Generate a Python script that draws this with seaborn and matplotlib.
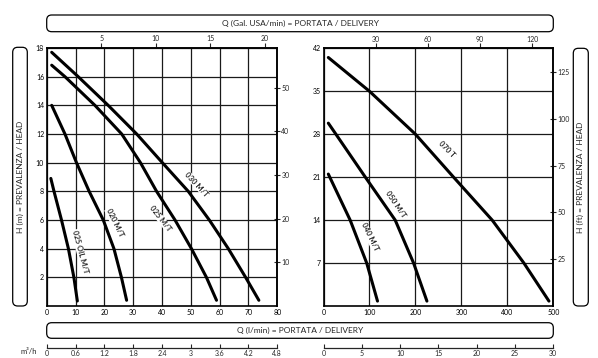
import numpy as np
import matplotlib
matplotlib.use("Agg")
import matplotlib.pyplot as plt
import seaborn as sns
from matplotlib.patches import FancyBboxPatch

# left panel: Q (l/min) vs H (m)
q_030 = [1.7, 10.9, 21.3, 31.2, 40.1, 49.1, 56.4, 63.0, 69.0, 73.6]
h_030 = [17.7, 16, 14, 12, 10, 8, 6, 4, 2, 0.4]
q_025 = [1.7, 6.3, 16.7, 26.0, 32.5, 38.1, 44.5, 50.2, 55.4, 58.9]
h_025 = [16.8, 16, 14, 12, 10, 8, 6, 4, 2, 0.4]
q_020 = [1.7, 6.3, 10.3, 14.7, 19.6, 23.3, 25.9, 27.7]
h_020 = [14, 12, 10, 8, 6, 4, 2, 0.4]
q_025oil = [1.4, 2.5, 5.1, 7.5, 9.4, 10.6]
h_025oil = [8.9, 8, 6, 4, 2, 0.35]

# right panel
q_070 = [10.5, 100, 200, 283, 367, 436, 490.5]
h_070 = [40.5, 35, 28, 21, 14, 7, 0.8]
q_050 = [10.5, 27, 91, 156, 196, 225]
h_050 = [29.8, 28, 21, 14, 7, 0.8]
q_040 = [10.5, 58, 94, 117.5]
h_040 = [21.5, 14, 7, 0.8]

left_labels = [("025 OIL M/T", 11.6, 3.8, -75), ("020 M/T", 23.5, 5.8, -64),
               ("025 M/T", 39.4, 6.1, -52), ("030 M/T", 52.0, 8.5, -47)]
right_labels = [("070 T", 268, 25.5, -45), ("050 M/T", 157, 16.6, -56),
                ("040 M/T", 100, 11.3, -64)]

GAL = 3.785   # l per US gallon
FT = 3.2808   # ft per m

sns.set_theme(style="white")
plt.rcParams['font.family'] = ['Lato', 'DejaVu Sans']

W, H = 598, 358
fig = plt.figure(figsize=(W / 100, H / 100), dpi=100)


def px_axes(x0, x1, y0, y1, **kw):
    return fig.add_axes([x0 / W, 1 - y1 / H, (x1 - x0) / W, (y1 - y0) / H], **kw)


def style_panel(ax, xmax, xstep, ymax, ystep, gal_ticks, ft_ticks, m3_ticks):
    ax.set_xlim(0, xmax)
    ax.set_ylim(0, ymax)
    ax.set_xticks(np.arange(0, xmax + 1, xstep))
    ax.set_yticks(np.arange(ystep, ymax + 0.1, ystep))
    ax.grid(True, color='#1a1a1a', lw=0.9)
    ax.set_axisbelow(True)
    ax.set_xlabel('')
    ax.set_ylabel('')
    for sp in ax.spines.values():
        sp.set_color('black')
        sp.set_linewidth(1.2)
    ax.tick_params(length=0, labelsize=5, pad=2, colors='black')

    top = ax.secondary_xaxis('top', functions=(lambda q: q / GAL, lambda g: g * GAL))
    top.set_xticks(gal_ticks)
    top.tick_params(direction='out', length=3.5, width=0.8, labelsize=5, pad=0.5)

    right = ax.secondary_yaxis('right', functions=(lambda m: m * FT, lambda f: f / FT))
    right.set_yticks(ft_ticks)
    right.tick_params(direction='inout', length=4, width=0.8, labelsize=5, pad=1)

    # m3/h scale below the caption box
    bot = ax.secondary_xaxis(-0.1616, functions=(lambda q: q * 0.06, lambda m: m / 0.06))
    bot.set_xticks(m3_ticks)
    bot.set_xticklabels([f"{v:g}" for v in m3_ticks])
    bot.tick_params(direction='in', length=3, width=0.8, labelsize=5, pad=1.5)
    bot.spines['bottom'].set_linewidth(0.9)


def curve(ax, q, h):
    sns.lineplot(x=q, y=h, ax=ax, color='black', lw=2.2, sort=False,
                 estimator=None, zorder=4)


def labels(ax, items):
    for s, x, y, r in items:
        ax.text(x, y, s, rotation=r, rotation_mode='anchor', ha='center', va='center',
                fontsize=5.5, fontweight='bold', zorder=5,
                bbox=dict(fc='white', ec='none', pad=0.3))


ax_l = px_axes(46.8, 277.3, 48, 306)
for q, h in [(q_030, h_030), (q_025, h_025), (q_020, h_020), (q_025oil, h_025oil)]:
    curve(ax_l, q, h)
style_panel(ax_l, 80, 10, 18, 2, [5, 10, 15, 20], [10, 20, 30, 40, 50],
            [0, 0.6, 1.2, 1.8, 2.4, 3, 3.6, 4.2, 4.8])
labels(ax_l, left_labels)

ax_r = px_axes(323.5, 553.3, 48.3, 306)
for q, h in [(q_070, h_070), (q_050, h_050), (q_040, h_040)]:
    curve(ax_r, q, h)
style_panel(ax_r, 500, 100, 42, 7, [30, 60, 90, 120], [25, 50, 75, 100, 125],
            [0, 5, 10, 15, 20, 25, 30])
labels(ax_r, right_labels)

# rounded caption boxes, drawn on a pixel-scaled overlay
bg = fig.add_axes([0, 0, 1, 1], zorder=-1)
bg.set_xlim(0, W)
bg.set_ylim(H, 0)
bg.axis('off')


def box(x0, y0, x1, y1, text, rot=0):
    bg.add_patch(FancyBboxPatch((x0, y0), x1 - x0, y1 - y0,
                                boxstyle="round,pad=0,rounding_size=5",
                                fc='none', ec='black', lw=0.9))
    bg.text((x0 + x1) / 2, (y0 + y1) / 2, text, rotation=rot, ha='center', va='center',
            fontsize=6)


box(46.7, 15, 553.3, 31.7, "Q (Gal. USA/min) = PORTATA / DELIVERY")
box(46.7, 322.7, 553.3, 338.3, "Q (l/min) = PORTATA / DELIVERY")
box(12.7, 47.3, 27.3, 306, "H (m) = PREVALENZA / HEAD", rot=90)
box(573.3, 48.3, 588.3, 306, "H (ft) = PREVALENZA / HEAD", rot=90)
bg.text(28.5, 352, "m³/h", ha='center', va='center', fontsize=5.5)

fig.savefig("out.png", dpi=100)
